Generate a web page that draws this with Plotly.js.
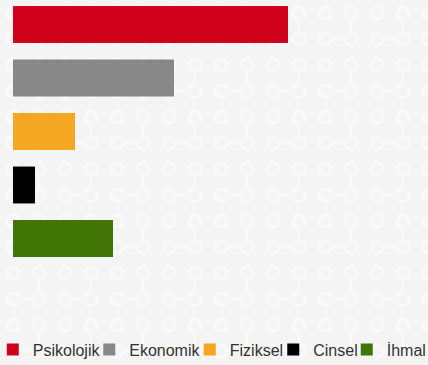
<!DOCTYPE html>
<html>
<head>
<meta charset="utf-8">
<script src="https://cdn.plot.ly/plotly-3.0.1.min.js"></script>
<style>
html,body{margin:0;padding:0;}
body{background-color:#f4f4f4;background-image:url("data:image/svg+xml;utf8,<svg xmlns='http://www.w3.org/2000/svg' width='52' height='52'><g fill='none' stroke='%23f9f9f9' stroke-width='3'><circle cx='13' cy='13' r='6'/><circle cx='39' cy='13' r='6'/><circle cx='13' cy='39' r='6'/><circle cx='39' cy='39' r='6'/><line x1='19' y1='39' x2='33' y2='39'/><line x1='39' y1='19' x2='39' y2='33'/></g></svg>");}
#chart{width:428px;height:365px;}
</style>
</head>
<body>
<div id="chart"></div>
<script>
const categories = ["Psikolojik", "Ekonomik", "Fiziksel", "Cinsel", "İhmal"];
const values = [68.75, 40.25, 15.5, 5.5, 25];
const colors = ["#d0021b", "#888888", "#f5a623", "#000000", "#417505"];
const legendLeftPx = [-7.25, 89.25, 189.75, 273.25, 346.75];

const W = 428, H = 365;
const ML = 13, MR = 15;
const PW = W - ML - MR;
const legendNames = ["legend", "legend2", "legend3", "legend4", "legend5"];
const traces = categories.map((c, i) => ({
  type: "bar",
  orientation: "h",
  x: [values[i]],
  y: [c],
  name: c,
  width: 0.69,
  marker: {color: colors[i], line: {width: 0}},
  legend: legendNames[i],
  hoverinfo: "x+y"
}));

const layout = {
  width: W, height: H,
  margin: {l: ML, r: MR, t: 0, b: 95, pad: 0, autoexpand: false},
  paper_bgcolor: "rgba(0,0,0,0)",
  plot_bgcolor: "rgba(0,0,0,0)",
  barmode: "overlay",
  showlegend: true,
  font: {family: "Liberation Sans, Arial, sans-serif", size: 16, color: "#333333"},
  xaxis: {range: [0, 100], visible: false, fixedrange: true},
  yaxis: {type: "category", categoryorder: "array", categoryarray: categories,
          range: [4.589, -0.458], visible: false, fixedrange: true}
};
legendNames.forEach((ln, i) => {
  layout[ln] = {
    orientation: "h",
    xref: "paper", yref: "container",
    x: (legendLeftPx[i] - ML) / PW, xanchor: "left",
    y: 1 - 349.5 / H, yanchor: "middle",
    bgcolor: "rgba(0,0,0,0)",
    font: {family: "Liberation Sans, Arial, sans-serif", size: 16, color: "#333333"}
  };
});

Plotly.newPlot("chart", traces, layout, {displayModeBar: false, staticPlot: true});
</script>
</body>
</html>
